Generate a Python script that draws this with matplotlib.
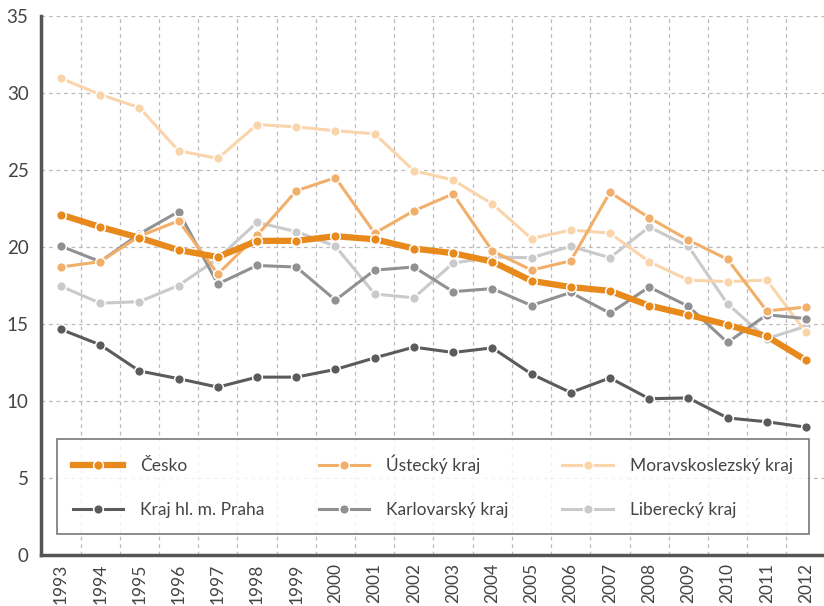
"""Vývoj ukazatele v krajích ČR 1993–2012"""
import matplotlib
matplotlib.use("Agg")
import matplotlib.pyplot as plt
import numpy as np

plt.rcParams["font.family"] = ["Lato", "DejaVu Sans"]

years = [str(y) for y in range(1993, 2013)]

cesko = [22.1, 21.3, 20.6, 19.8, 19.35, 20.4, 20.4, 20.7, 20.5, 19.9,
         19.6, 19.05, 17.8, 17.4, 17.15, 16.2, 15.6, 14.95, 14.2, 12.65]
praha = [14.65, 13.65, 11.95, 11.45, 10.9, 11.55, 11.55, 12.05, 12.8, 13.5,
         13.15, 13.45, 11.75, 10.55, 11.5, 10.15, 10.2, 8.9, 8.65, 8.3]
ustecky = [18.7, 19.05, 20.7, 21.7, 18.25, 20.75, 23.65, 24.5, 20.9, 22.35,
           23.45, 19.75, 18.5, 19.1, 23.55, 21.9, 20.45, 19.2, 15.85, 16.1]
karlovarsky = [20.05, 19.05, 20.85, 22.3, 17.6, 18.8, 18.7, 16.55, 18.5, 18.7,
               17.1, 17.3, 16.2, 17.05, 15.7, 17.4, 16.15, 13.8, 15.6, 15.35]
moravskoslezsky = [30.95, 29.9, 29.05, 26.25, 25.75, 27.95, 27.8, 27.55, 27.35, 24.95,
                   24.35, 22.8, 20.55, 21.1, 20.9, 19.05, 17.85, 17.75, 17.85, 14.45]
liberecky = [17.45, 16.35, 16.45, 17.5, 19.25, 21.6, 21.0, 20.05, 16.95, 16.7,
             18.95, 19.35, 19.3, 20.05, 19.3, 21.3, 20.05, 16.3, 14.05, 14.85]

series = [
    ("Česko", cesko, "#E8891C", 4.5, 10),
    ("Kraj hl. m. Praha", praha, "#5B5B5B", 2.2, 5),
    ("Ústecký kraj", ustecky, "#F1AF6A", 2.2, 6),
    ("Karlovarský kraj", karlovarsky, "#909193", 2.2, 4),
    ("Moravskoslezský kraj", moravskoslezsky, "#FAD4AA", 2.2, 3),
    ("Liberecký kraj", liberecky, "#C9CACB", 2.2, 2),
]

fig = plt.figure(figsize=(8.24, 6.06), dpi=100)
ax = fig.add_axes([41 / 824, 1 - 555 / 606, 1 - 41 / 824, (555 - 16) / 606])

x = np.arange(len(years))
for label, vals, color, lw, z in series:
    ax.plot(x, vals, color=color, linewidth=lw, marker="o", markersize=7,
            markeredgecolor="white", markeredgewidth=1.1, label=label, zorder=z)

ax.set_xlim(-0.51, 19.46)
ax.set_ylim(0, 35)
ax.set_yticks(range(0, 36, 5))
ax.set_xticks(x)
ax.set_xticklabels(years, rotation=90, fontsize=12.5, color="#444444")
ax.set_xticks(x[:-1] + 0.5, minor=True)
ax.tick_params(axis="y", labelsize=13.5, labelcolor="#444444", length=0, pad=9)
ax.tick_params(axis="x", which="both", length=0, pad=6)
ax.grid(axis="y", which="major", linestyle=(0, (3, 3)), color="#BBBBBB", linewidth=0.9)
ax.grid(axis="x", which="minor", linestyle=(0, (3, 3)), color="#BBBBBB", linewidth=0.9)
ax.set_axisbelow(True)

for side in ["top", "right"]:
    ax.spines[side].set_visible(False)
for side in ["left", "bottom"]:
    ax.spines[side].set_color("#555555")
    ax.spines[side].set_linewidth(2.5)

handles, labels = ax.get_legend_handles_labels()
leg = ax.legend(handles, labels, ncol=3, loc="upper left",
                bbox_to_anchor=(16 / 783, (555 - 439) / 539),
                fontsize=12.5, frameon=True, fancybox=False, borderaxespad=0,
                handlelength=2.9, handletextpad=1.0, labelspacing=1.6,
                columnspacing=3.1, borderpad=0.9, labelcolor="#444444")
leg.get_frame().set_edgecolor("#555555")
leg.get_frame().set_linewidth(1.2)
leg.set_zorder(20)

plt.savefig("out.png", dpi=100)
plt.close()
